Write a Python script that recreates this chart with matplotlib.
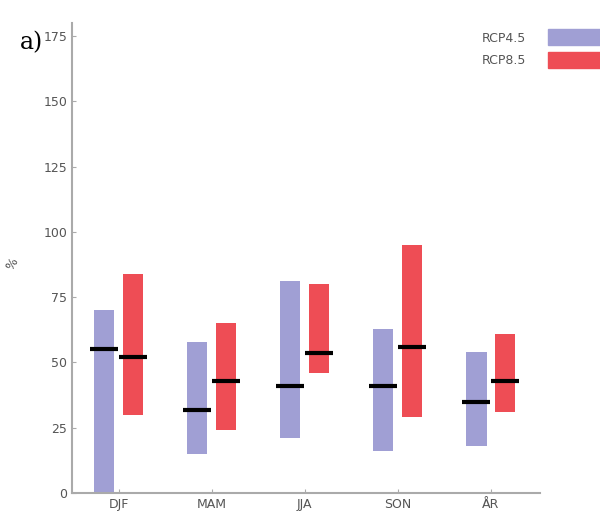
import numpy as np
import matplotlib
matplotlib.use("Agg")
from matplotlib import pyplot as plt
from matplotlib.patches import Patch

seasons = ["DJF", "MAM", "JJA", "SON", "ÅR"]
# low, high, median per season
rcp45_low = [0, 15, 21, 16, 18]
rcp45_high = [70, 58, 81, 63, 54]
rcp45_med = [55, 32, 41, 41, 35]
rcp85_low = [30, 24, 46, 29, 31]
rcp85_high = [84, 65, 80, 95, 61]
rcp85_med = [52, 43, 53.5, 56, 43]
yticks = [0, 25, 50, 75, 100, 125, 150, 175]

c45 = "#a09fd4"
c85 = "#ee4d55"
grey = "#555555"

fig = plt.figure(figsize=(6, 5.18), dpi=100)
ax = fig.add_axes([0.12, 0.048, 0.78, 0.908])

x = np.arange(1, len(seasons) + 1)
off = 0.155
w = 0.22
ax.bar(x - off, np.array(rcp45_high) - np.array(rcp45_low), bottom=rcp45_low,
       width=w, color=c45, zorder=2)
ax.bar(x + off, np.array(rcp85_high) - np.array(rcp85_low), bottom=rcp85_low,
       width=w, color=c85, zorder=2)
ax.hlines(rcp45_med, x - off - 0.15, x - off + 0.15, color="black", lw=3, zorder=3)
ax.hlines(rcp85_med, x + off - 0.15, x + off + 0.15, color="black", lw=3, zorder=3)

ax.set_xlim(0.5, 5.53)
ax.set_ylim(0, 180)
ax.set_xticks(x)
ax.set_xticklabels(seasons)
ax.set_yticks(yticks)
for s in ["top", "right"]:
    ax.spines[s].set_visible(False)
for s in ["left", "bottom"]:
    ax.spines[s].set_color("#aaaaaa")
    ax.spines[s].set_linewidth(1.5)
ax.tick_params(direction="in", length=3, color="#aaaaaa", labelcolor=grey, labelsize=9)
ax.set_ylabel("%", color=grey, fontsize=9, rotation=60)
ax.yaxis.set_label_coords(-0.115, 0.48)

fig.text(0.033, 0.905, "a)", family="DejaVu Serif", fontsize=17)

handles = [Patch(color=c45, label="RCP4.5"), Patch(color=c85, label="RCP8.5")]
fig.legend(handles=handles, loc="upper right", bbox_to_anchor=(1.02, 0.965),
           frameon=False, markerfirst=False, fontsize=9, handlelength=4.2,
           handleheight=1.6, labelspacing=0.5, handletextpad=1.8,
           labelcolor=grey)

fig.savefig("out.png", dpi=100)
